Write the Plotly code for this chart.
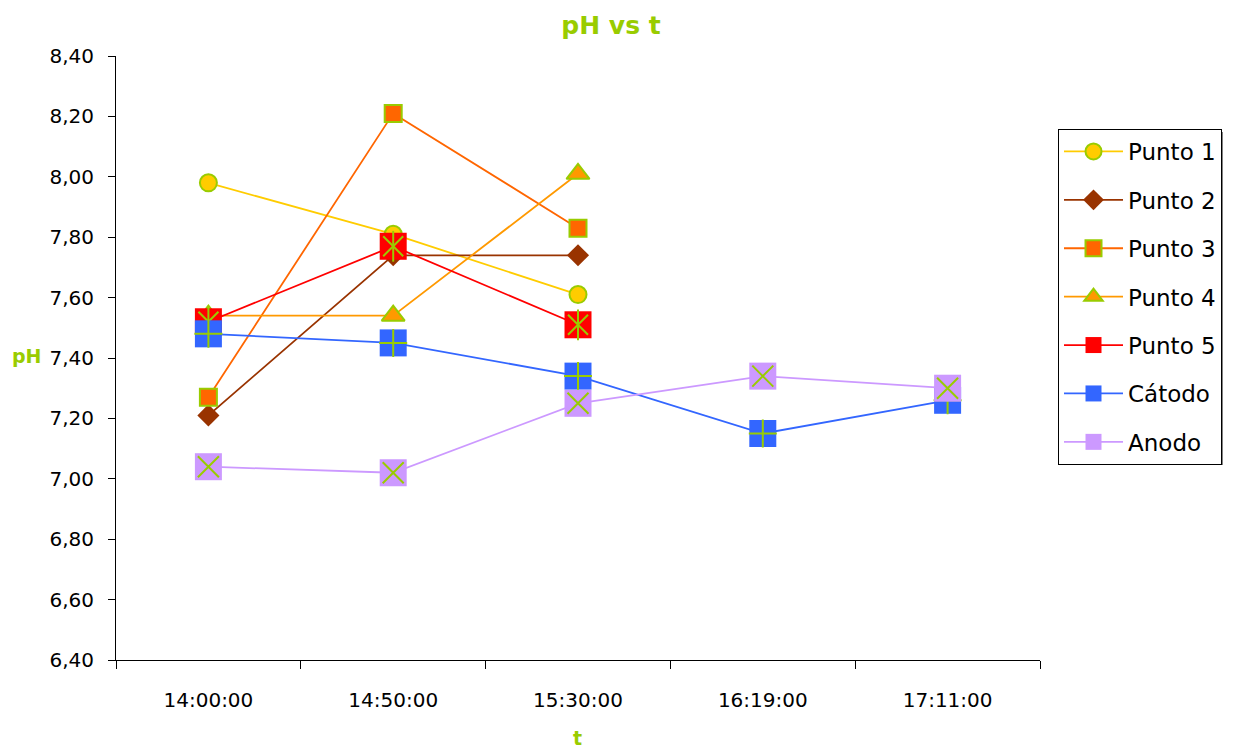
import plotly.graph_objects as go

# Sampling times (category axis) and measured pH per probe point
tiempos = ["14:00:00", "14:50:00", "15:30:00", "16:19:00", "17:11:00"]

punto1 = [7.98, 7.81, 7.61, None, None]
punto2 = [7.21, 7.74, 7.74, None, None]
punto3 = [7.27, 8.21, 7.83, None, None]
punto4 = [7.54, 7.54, 8.01, None, None]
punto5 = [7.52, 7.77, 7.51, None, None]
catodo = [7.48, 7.45, 7.34, 7.15, 7.26]
anodo = [7.04, 7.02, 7.25, 7.34, 7.30]

y_ticks = [6.40, 6.60, 6.80, 7.00, 7.20, 7.40, 7.60, 7.80, 8.00, 8.20, 8.40]

GREEN = "#99CC00"
FONT = "DejaVu Sans"

fig = go.Figure()


def add_series(name, values, color, symbol, size, edge, overlays=()):
    fig.add_trace(go.Scatter(
        x=tiempos, y=values, name=name, mode="lines+markers",
        legendgroup=name,
        line=dict(color=color, width=1.8),
        marker=dict(symbol=symbol, size=size, color=color,
                    line=dict(color=edge, width=2 if edge != color else 0)),
        connectgaps=False,
    ))
    # green glyphs drawn over the filled square markers
    for sym, sz in overlays:
        fig.add_trace(go.Scatter(
            x=tiempos, y=values, mode="markers", showlegend=False,
            legendgroup=name, hoverinfo="skip",
            marker=dict(symbol=sym, size=sz, color=GREEN,
                        line=dict(color=GREEN, width=2)),
        ))


add_series("Punto 1", punto1, "#FFCC00", "circle", 17, GREEN)
add_series("Punto 2", punto2, "#993300", "diamond", 17, "#993300")
add_series("Punto 3", punto3, "#FF6600", "square", 17, GREEN)
add_series("Punto 4", punto4, "#FF9900", "triangle-up", 20, GREEN)
add_series("Punto 5", punto5, "#FF0000", "square", 27, "#FF0000",
           overlays=[("x-thin-open", 20), ("line-ns-open", 22)])
add_series("Cátodo", catodo, "#3366FF", "square", 27, "#3366FF",
           overlays=[("cross-thin-open", 20)])
add_series("Anodo", anodo, "#CC99FF", "square", 27, "#CC99FF",
           overlays=[("x-thin-open", 21)])

fig.update_layout(
    width=1239, height=749,
    margin=dict(l=116, r=199, t=56, b=89),
    paper_bgcolor="white", plot_bgcolor="white",
    font=dict(family=FONT, size=20, color="black"),
    showlegend=True,
    title=dict(text="<b>pH vs t</b>", x=611 / 1239, xref="container",
               xanchor="center", y=1 - 25 / 749, yref="container",
               yanchor="middle", font=dict(family=FONT, size=25, color=GREEN)),
    legend=dict(
        x=1058 / 1239, xref="container", xanchor="left",
        y=1 - 129 / 749, yref="container", yanchor="top",
        bordercolor="black", borderwidth=1, bgcolor="white",
        font=dict(family=FONT, size=23, color="black"),
        traceorder="grouped", tracegroupgap=15.5, itemwidth=59,
    ),
    xaxis=dict(
        type="category", range=[-0.5, 4.5], showgrid=False, zeroline=False,
        showline=True, linecolor="black", linewidth=1,
        ticks="outside", ticklen=8, tickcolor="black", tickson="boundaries",
        ticklabelstandoff=22, tickfont=dict(family=FONT, size=20),
    ),
    yaxis=dict(
        range=[6.4, 8.4], showgrid=False, zeroline=False,
        showline=True, linecolor="black", linewidth=1,
        ticks="outside", ticklen=7, tickcolor="black",
        tickvals=y_ticks, ticktext=[f"{v:.2f}".replace(".", ",") for v in y_ticks],
        ticklabelstandoff=10, tickfont=dict(family=FONT, size=20),
    ),
    annotations=[
        dict(text="<b>pH</b>", xref="paper", yref="paper",
             x=(27 - 116) / 924, y=(660 - 356) / 604, showarrow=False,
             xanchor="center", yanchor="middle",
             font=dict(family=FONT, size=19, color=GREEN)),
        dict(text="<b>t</b>", xref="paper", yref="paper",
             x=(577 - 116) / 924, y=(660 - 738) / 604, showarrow=False,
             xanchor="center", yanchor="middle",
             font=dict(family=FONT, size=19, color=GREEN)),
    ],
    # thin drop shadow behind the legend box
    shapes=[dict(type="rect", xref="paper", yref="paper",
                 x0=(1061 - 116) / 924, x1=(1223 - 116) / 924,
                 y0=(660 - 465) / 604, y1=(660 - 132) / 604,
                 fillcolor="#808080", line=dict(width=0), layer="above")],
)

fig.write_html("out.html")
